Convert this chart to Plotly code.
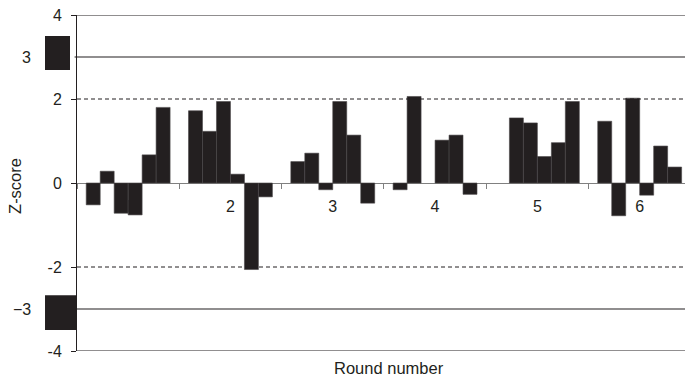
import plotly.graph_objects as go

# Z-scores per round for each of the six participants (None = no result)
rounds = ["1", "2", "3", "4", "5", "6"]
participant_1 = [-0.52, 1.72, 0.51, -0.16, None, 1.47]
participant_2 = [0.28, 1.23, 0.71, 2.06, 1.55, -0.78]
participant_3 = [-0.72, 1.94, -0.16, None, 1.43, 2.02]
participant_4 = [-0.76, 0.21, 1.94, 1.02, 0.63, -0.29]
participant_5 = [0.67, -2.06, 1.14, 1.14, 0.96, 0.88]
participant_6 = [1.80, -0.33, -0.48, -0.27, 1.94, 0.38]

series = [participant_1, participant_2, participant_3,
          participant_4, participant_5, participant_6]

y_ticks = [4, 2, 0, -2, -4]
y_tick_text = ["4", "2", "0", "-2", "-4"]
warning_limits = [2, -2]
action_limits = [3, -3]
frame_limits = [4, -4]

INK = "#231f20"
FONT = "Liberation Sans, Arial, sans-serif"

fig = go.Figure()
for i, values in enumerate(series):
    fig.add_trace(go.Bar(
        x=rounds, y=values, name=f"Participant {i + 1}",
        marker=dict(color=INK, line=dict(width=0.6, color="#4a4748")),
        showlegend=False,
    ))

shapes = []
for y in frame_limits:
    shapes.append(dict(type="line", xref="paper", yref="y", x0=0, x1=1,
                       y0=y, y1=y, line=dict(color=INK, width=1)))
for y in action_limits:
    shapes.append(dict(type="line", xref="paper", yref="y", x0=-0.004, x1=1,
                       y0=y, y1=y, line=dict(color=INK, width=1.2)))
for y in warning_limits:
    shapes.append(dict(type="line", xref="paper", yref="y", x0=0, x1=1,
                       y0=y, y1=y, line=dict(color=INK, width=1, dash="4px,3px")))

# filled keys beside the action-limit labels
shapes.append(dict(type="rect", xref="paper", yref="y", x0=-0.0526, x1=-0.0115,
                   y0=2.69, y1=3.5, fillcolor=INK, line=dict(width=0), layer="above"))
shapes.append(dict(type="rect", xref="paper", yref="y", x0=-0.0526, x1=-0.0016,
                   y0=-3.5, y1=-2.67, fillcolor=INK, line=dict(width=0), layer="above"))

annotations = [
    dict(text="3", xref="paper", yref="y", x=-0.0724, y=3, xanchor="right",
         yanchor="middle", showarrow=False, font=dict(size=16, color=INK, family=FONT)),
    dict(text="\u22123", xref="paper", yref="y", x=-0.0724, y=-3, xanchor="right",
         yanchor="middle", showarrow=False, font=dict(size=16, color=INK, family=FONT)),
    dict(text="Z-score", xref="paper", yref="paper", x=-0.101, y=0.49, textangle=-90,
         xanchor="center", yanchor="middle", showarrow=False,
         font=dict(size=16.5, color=INK, family=FONT)),
    dict(text="Round number", xref="paper", yref="paper", x=0.513, y=0,
         yshift=-17, xanchor="center", yanchor="middle", showarrow=False,
         font=dict(size=16.5, color=INK, family=FONT)),
]

fig.update_layout(
    width=685, height=384,
    margin=dict(l=77, r=0, t=15, b=33),
    paper_bgcolor="white", plot_bgcolor="white",
    barmode="group", bargap=0.18, bargroupgap=0,
    font=dict(family=FONT, size=16, color=INK),
    shapes=shapes, annotations=annotations,
    xaxis=dict(
        type="category", range=[-0.5, 5.443],
        anchor="free", position=0.5,
        showline=True, linecolor="#808080", linewidth=1,
        ticks="outside", tickson="boundaries", ticklen=5, tickcolor="#808080",
        ticklabelstandoff=9, showgrid=False, zeroline=False,
        layer="below traces", tickfont=dict(size=16, color=INK),
    ),
    yaxis=dict(
        range=[-4, 4], tickvals=y_ticks, ticktext=y_tick_text,
        showline=True, linecolor=INK, linewidth=1,
        ticks="outside", ticklen=5, tickcolor=INK,
        ticklabelstandoff=6,
        showgrid=False, zeroline=False, tickfont=dict(size=16, color=INK),
    ),
)

fig.write_html("out.html")
